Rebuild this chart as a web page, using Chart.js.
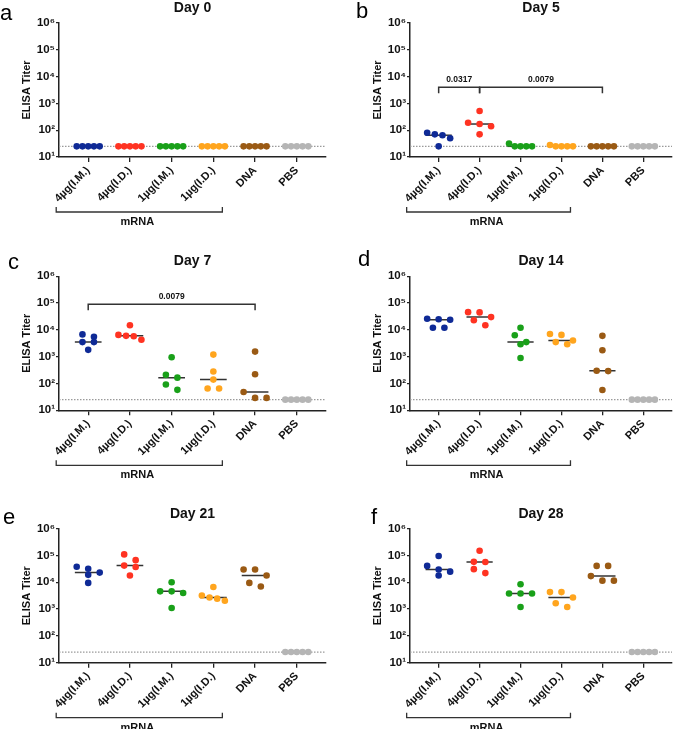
<!DOCTYPE html>
<html>
<head>
<meta charset="utf-8">
<script src="https://cdn.jsdelivr.net/npm/chart.js@4.4.1/dist/chart.umd.min.js"></script>
<style>
  body { margin: 0; background: #fff; }
  #wrap { position: relative; width: 676px; height: 729px; overflow: hidden; }
  .panel { position: absolute; width: 338px; height: 243px; }
</style>
</head>
<body>
<div id="wrap"></div>
<script>
const categories = ['4µg(I.M.)', '4µg(I.D.)', '1µg(I.M.)', '1µg(I.D.)', 'DNA', 'PBS'];
const groupColors = ['#0f2a96', '#ff3322', '#19a019', '#ffa51e', '#9a5a14', '#b5b5b5'];
const yTickValues = [10, 100, 1000, 10000, 100000, 1000000];
const yTickLabels = ['10¹', '10²', '10³', '10⁴', '10⁵', '10⁶'];
const detectionLimit = 25;

// titers per group, 5 mice each
const day0 = [
  [25, 25, 25, 25, 25], [25, 25, 25, 25, 25], [25, 25, 25, 25, 25],
  [25, 25, 25, 25, 25], [25, 25, 25, 25, 25], [25, 25, 25, 25, 25]
];
const day5 = [
  [80, 70, 65, 50, 25], [520, 190, 170, 140, 70], [32, 25, 25, 25, 25],
  [28, 25, 25, 25, 25], [25, 25, 25, 25, 25], [25, 25, 25, 25, 25]
];
const day7 = [
  [6800, 5500, 3500, 3500, 1800], [15000, 6500, 6000, 5800, 4300], [950, 210, 165, 92, 58],
  [1200, 280, 140, 65, 65], [1550, 220, 48, 29, 29], [25, 25, 25, 25, 25]
];
const day14 = [
  [26000, 25000, 24000, 12000, 12000], [46000, 45000, 30000, 23000, 15000], [12000, 6300, 3500, 2900, 900],
  [7000, 6500, 4000, 3500, 2900], [6000, 1750, 300, 290, 57], [25, 25, 25, 25, 25]
];
const day21 = [
  [38000, 32000, 23000, 19000, 9500], [110000, 67000, 42000, 37000, 18000], [10000, 4600, 4600, 4000, 1100],
  [6700, 3200, 2700, 2450, 2050], [30000, 30000, 18000, 9500, 7000], [25, 25, 25, 25, 25]
];
const day28 = [
  [96000, 41000, 30000, 25000, 18000], [150000, 58000, 57000, 31000, 22000], [8500, 3800, 3800, 3800, 1200],
  [4300, 4300, 2700, 1650, 1200], [41000, 41000, 17000, 11500, 11500], [25, 25, 25, 25, 25]
];

// p-value brackets: group numbers and the titer level the bracket sits at
const day5Brackets = [
  { from: 1, to: 2, label: '0.0317', level: 4000 },
  { from: 2, to: 5, label: '0.0079', level: 4000 }
];
const day7Brackets = [
  { from: 1, to: 5, label: '0.0079', level: 90000 }
];

const panels = [
  { letter: 'a', title: 'Day 0', values: day0, brackets: [], col: 0, row: 0, lx: 0, ly: 20 },
  { letter: 'b', title: 'Day 5', values: day5, brackets: day5Brackets, col: 1, row: 0, lx: 18, ly: 18 },
  { letter: 'c', title: 'Day 7', values: day7, brackets: day7Brackets, col: 0, row: 1, lx: 8, ly: 26 },
  { letter: 'd', title: 'Day 14', values: day14, brackets: [], col: 1, row: 1, lx: 20, ly: 23 },
  { letter: 'e', title: 'Day 21', values: day21, brackets: [], col: 0, row: 2, lx: 3, ly: 38 },
  { letter: 'f', title: 'Day 28', values: day28, brackets: [], col: 1, row: 2, lx: 33, ly: 38 }
];

const FONT = '"Liberation Sans", Arial, sans-serif';
const rowTops = [23, 33.3, 42.7];
const plotH = 134;
const xAxisH = 60;

function median(arr) {
  const s = arr.slice().sort((a, b) => a - b);
  return s[Math.floor(s.length / 2)];
}

function annotPlugin(p) {
  return {
    id: 'annot' + p.letter,
    afterDraw(chart) {
      const { ctx, chartArea } = chart;
      const x = chart.scales.x, y = chart.scales.y;
      ctx.save();
      ctx.fillStyle = '#000';
      ctx.textBaseline = 'alphabetic';
      ctx.font = '22px ' + FONT;
      ctx.textAlign = 'left';
      ctx.fillText(p.letter, p.lx, p.ly);

      ctx.fillStyle = '#111';
      ctx.font = 'bold 14px ' + FONT;
      ctx.textAlign = 'center';
      ctx.fillText(p.title, (chartArea.left + chartArea.right) / 2, chartArea.top - 11);

      // mRNA group bracket
      ctx.strokeStyle = '#333';
      ctx.lineWidth = 1.3;
      const bx0 = x.getPixelForValue(1) - 32, bx1 = x.getPixelForValue(4) + 9;
      const by = chartArea.bottom + 55;
      ctx.beginPath();
      ctx.moveTo(bx0, by - 5); ctx.lineTo(bx0, by); ctx.lineTo(bx1, by); ctx.lineTo(bx1, by - 5);
      ctx.stroke();
      ctx.font = 'bold 11px ' + FONT;
      ctx.fillText('mRNA', (bx0 + bx1) / 2 - 2, chartArea.bottom + 68);

      // significance brackets
      ctx.lineWidth = 1.5;
      ctx.font = 'bold 8.5px ' + FONT;
      p.brackets.forEach(b => {
        const x0 = x.getPixelForValue(b.from), x1 = x.getPixelForValue(b.to);
        const yy = y.getPixelForValue(b.level);
        ctx.beginPath();
        ctx.moveTo(x0, yy + 6); ctx.lineTo(x0, yy); ctx.lineTo(x1, yy); ctx.lineTo(x1, yy + 6);
        ctx.stroke();
        ctx.fillText(b.label, (x0 + x1) / 2, yy - 5);
      });
      ctx.restore();
    }
  };
}

// Prism-like scatter: points close in height share a row and are spread across it
function swarm(chart, p) {
  const x = chart.scales.x, y = chart.scales.y;
  const binH = 7, halfW = 11.5;
  p.values.forEach((vals, ci) => {
    const ds = chart.data.datasets[2 + ci * 2];
    const cx = x.getPixelForValue(ci + 1);
    const xs = new Array(vals.length);
    const order = vals.map((v, i) => i).sort((a, b) => vals[b] - vals[a]);
    const bins = [];
    order.forEach(i => {
      const py = y.getPixelForValue(vals[i]);
      const last = bins[bins.length - 1];
      if (last && py - last.y0 < binH) last.items.push(i);
      else bins.push({ y0: py, items: [i] });
    });
    bins.forEach(b => {
      const n = b.items.length;
      const step = n > 1 ? Math.min(11.5, 2 * halfW / (n - 1)) : 0;
      b.items.sort((a, c) => a - c).forEach((i, k) => {
        xs[i] = x.getValueForPixel(cx + (k - (n - 1) / 2) * step);
      });
    });
    ds.data = vals.map((v, i) => ({ x: xs[i], y: v }));
  });
  chart.update('none');
}

const wrap = document.getElementById('wrap');
panels.forEach(p => {
  const div = document.createElement('div');
  div.className = 'panel';
  div.style.left = (p.col * 338) + 'px';
  div.style.top = (p.row * 243) + 'px';
  const canvas = document.createElement('canvas');
  canvas.width = 338; canvas.height = 243;
  div.appendChild(canvas);
  wrap.appendChild(div);

  const top = rowTops[p.row];
  const yAxisW = p.col === 0 ? 59 : 72;
  const padRight = p.col === 0 ? 12 : 0;
  const padBottom = 243 - (top + plotH) - xAxisH;

  const datasets = [{
    type: 'line',
    data: [{ x: 0.3, y: detectionLimit }, { x: 6.7, y: detectionLimit }],
    borderColor: '#9a9a9a', borderWidth: 1.2, borderDash: [1.5, 1.5],
    pointRadius: 0, order: 5
  }, { type: 'line', data: [], order: 5 }];
  p.values.forEach((vals, ci) => {
    const m = median(vals);
    datasets.push({
      type: 'scatter',
      data: vals.map(v => ({ x: ci + 1, y: v })),
      backgroundColor: groupColors[ci], borderWidth: 0,
      pointRadius: 3.3, order: 1
    });
    datasets.push({
      type: 'line',
      data: [{ x: ci + 1 - 0.32, y: m }, { x: ci + 1 + 0.32, y: m }],
      borderColor: '#333', borderWidth: 1.5, pointRadius: 0, order: 3
    });
  });

  const chart = new Chart(canvas, {
    data: { datasets },
    options: {
      responsive: false,
      animation: false,
      layout: { padding: { top: top, left: 0, right: padRight, bottom: padBottom } },
      plugins: { legend: { display: false }, tooltip: { enabled: false } },
      scales: {
        x: {
          type: 'linear', min: 0.3, max: 6.7,
          afterBuildTicks: s => { s.ticks = categories.map((c, i) => ({ value: i + 1 })); },
          afterFit: s => { s.height = xAxisH; },
          grid: { drawOnChartArea: false, drawTicks: true, tickLength: 5, color: '#222', lineWidth: 1.3 },
          border: { display: true, color: '#222', width: 1.5 },
          ticks: {
            autoSkip: false, minRotation: 45, maxRotation: 45, padding: 2,
            color: '#111', font: { family: FONT, size: 11, weight: 'bold' },
            callback: v => categories[Math.round(v) - 1]
          }
        },
        y: {
          type: 'logarithmic', min: 10, max: 1000000,
          afterBuildTicks: s => { s.ticks = yTickValues.map(v => ({ value: v, major: true })); },
          afterFit: s => { s.width = yAxisW; },
          grid: { drawOnChartArea: false, drawTicks: true, tickLength: 3, color: '#222', lineWidth: 1.3 },
          border: { display: true, color: '#222', width: 1.5 },
          title: {
            display: true, text: 'ELISA Titer', color: '#111',
            font: { family: FONT, size: 11, weight: 'bold' },
            padding: { top: (p.col === 0 ? 27 : 40) - 6.6, bottom: 0 }
          },
          ticks: {
            padding: 1, color: '#111', font: { family: FONT, size: 11.5, weight: 'bold' },
            callback: (v, i) => yTickLabels[yTickValues.indexOf(v)]
          }
        }
      }
    },
    plugins: [annotPlugin(p)]
  });
  swarm(chart, p);
});
</script>
</body>
</html>
